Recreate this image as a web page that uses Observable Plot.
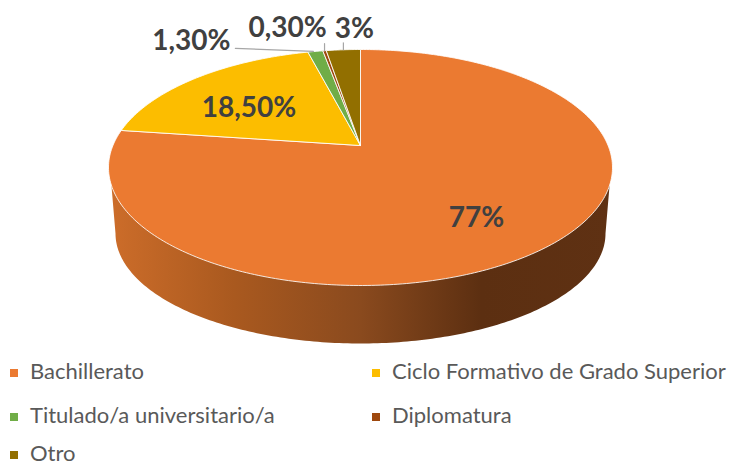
<!DOCTYPE html>
<html>
<head>
<meta charset="utf-8">
<script src="https://cdn.jsdelivr.net/npm/d3@7"></script>
<script src="https://cdn.jsdelivr.net/npm/@observablehq/plot@0.6"></script>
<style>
html,body{margin:0;padding:0;background:#fff;overflow:hidden;width:729px;height:468px}
#chart svg{display:block}
#legend{display:grid;grid-template-columns:362px auto;grid-template-rows:44px 44px 32px;margin:-6px 0 0 10px;
font-family:Lato,sans-serif;font-size:22px;line-height:18px;color:#595959;align-items:center;white-space:nowrap}
#legend span.k{display:inline-block;width:8px;height:8px;margin-right:12px;vertical-align:2px}
</style>
</head>
<body>
<div id="chart"></div>
<div id="legend"></div>
<script>
// Data
const categories = ["Bachillerato","Ciclo Formativo de Grado Superior","Titulado/a universitario/a","Diplomatura","Otro"];
const values = [77, 18.5, 1.3, 0.3, 3];
const valueLabels = ["77%","18,50%","1,30%","0,30%","3%"];
const colors = ["#EB7A31","#FCBD00","#70AD47","#9E480E","#926F00"];

// Layout (separate from data)
const W = 729, H = 355;
const xRange = [108, 612], yRange = [49, 285];
const pxX = xRange[1] - xRange[0], pxY = yRange[1] - yRange[0];
const tilt = -0.186;                 // perspective shift of the pie's centre
const warp = 0.065;                  // foreshortening of angles near the far edge
const labelRadius = [0.6, 0.6, 1, 1, 1];
const labelShift = [[16,13],[-12,6],[-124,-10],[-37,-23],[11,-21]];
const leaderFrom = [null,null,[-80,-3],[0,-7],[0,-7]];
const leaderEnd = [null,null,[-2,0],[0,0],[0,0]];

const total = d3.sum(values);
function project(angle, r = 1) {
  const a = angle - warp * Math.sin(2 * angle);
  const u = r * Math.sin(a), v = -r * Math.cos(a);
  const d = 1 + tilt * v;
  return {x: u * Math.sqrt(1 - tilt * tilt) / d, y: (v + tilt) / d};
}
const shift = (p, s) => ({x: p.x + 2 * s[0] / pxX, y: p.y + 2 * s[1] / pxY});

let cum = 0;
const slices = [], labels = [], leaders = [];
values.forEach((val, i) => {
  const a0 = cum / total * 2 * Math.PI;
  cum += val;
  const a1 = cum / total * 2 * Math.PI;
  const n = Math.max(2, Math.ceil((a1 - a0) * 60));
  slices.push({name: categories[i], ...project(0, 0)});
  for (let k = 0; k <= n; k++) slices.push({name: categories[i], ...project(a0 + (a1 - a0) * k / n)});
  slices.push({name: categories[i], ...project(0, 0)});
  const mid = (a0 + a1) / 2;
  const anchor = project(mid, labelRadius[i]);
  labels.push({text: valueLabels[i], ...shift(anchor, labelShift[i])});
  if (leaderFrom[i]) {
    leaders.push({name: categories[i], ...shift(anchor, leaderFrom[i])});
    leaders.push({name: categories[i], ...shift(anchor, leaderEnd[i])});
  }
});

// Side wall: from the top ellipse down around a smaller, lower ellipse
const wall = [];
const wallTopY = 0.1525, wallTopX = Math.sqrt(1 - wallTopY * wallTopY);
const bottomRx = 245 / 252, bottomCy = 66 / 118, bottomRy = 110 / 118;
wall.push({x: -wallTopX, y: wallTopY});
for (let k = 0; k <= 180; k++) {
  const t = Math.PI - Math.PI * k / 180;
  wall.push({x: bottomRx * Math.cos(t), y: bottomCy + bottomRy * Math.sin(t)});
}
wall.push({x: wallTopX, y: wallTopY});

const defsMark = () => {
  const ns = "http://www.w3.org/2000/svg";
  const defs = document.createElementNS(ns, "defs");
  defs.innerHTML = `<linearGradient id="wallGrad" gradientUnits="userSpaceOnUse" x1="108" x2="612" y1="0" y2="0">
    <stop offset="0" stop-color="#CD6D2A"/><stop offset="0.25" stop-color="#A9591F"/>
    <stop offset="0.5" stop-color="#8A4A1E"/><stop offset="0.74" stop-color="#5C2F11"/>
    <stop offset="1" stop-color="#5F3113"/></linearGradient>`;
  return defs;
};

const plot = Plot.plot({
  width: W, height: H,
  margin: 0,
  x: {domain: [-1, 1], range: xRange, axis: null},
  y: {domain: [-1, 1], range: yRange, axis: null},
  color: {domain: categories, range: colors},
  style: {background: "transparent"},
  marks: [
    defsMark,
    Plot.line(wall, {x: "x", y: "y", fill: "url(#wallGrad)", stroke: "none"}),
    Plot.line(slices, {x: "x", y: "y", z: "name", fill: "name", stroke: "#fff", strokeWidth: 1, strokeOpacity: 0.85, strokeLinejoin: "round"}),
    Plot.line(leaders, {x: "x", y: "y", z: "name", stroke: "#A6A6A6", strokeWidth: 1.2}),
    Plot.text(labels, {x: "x", y: "y", text: "text", fontFamily: "Lato, sans-serif", fontWeight: "bold", fontSize: 28, fill: "#404040"})
  ]
});
document.getElementById("chart").appendChild(plot);

const legend = document.getElementById("legend");
categories.forEach((c, i) => {
  const d = document.createElement("div");
  const k = document.createElement("span");
  k.className = "k";
  k.style.background = colors[i];
  d.appendChild(k);
  d.appendChild(document.createTextNode(c));
  legend.appendChild(d);
});
</script>
</body>
</html>
